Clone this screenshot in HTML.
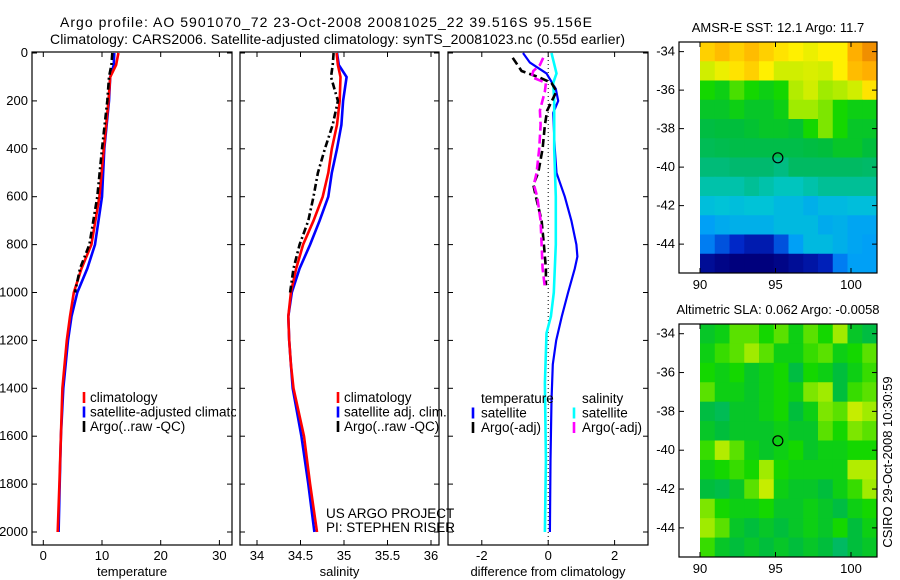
<!DOCTYPE html>
<html><head><meta charset="utf-8">
<style>
html,body{margin:0;padding:0;background:#fff;}
svg{display:block;font-family:"Liberation Sans",sans-serif;}
text{fill:#000;}
</style></head>
<body>
<svg id="chart" width="900" height="580" viewBox="0 0 900 580" xmlns="http://www.w3.org/2000/svg">
<text x="60" y="27" font-size="14" textLength="532" lengthAdjust="spacing">Argo profile: AO 5901070_72 23-Oct-2008 20081025_22 39.516S 95.156E</text>
<text x="50" y="44" font-size="14" textLength="575" lengthAdjust="spacing">Climatology: CARS2006. Satellite-adjusted climatology: synTS_20081023.nc (0.55d earlier)</text>
<g id="g"></g>
</svg>
<script>
// ---------- profile data ----------
const tDepth = [0,50,100,200,400,600,800,900,1000,1100,1200,1400,1600,1800,2000];
const tempClim = [12.8,12.4,11.4,11.1,10.3,9.55,8.2,6.5,5.2,4.55,4.0,3.25,3.0,2.75,2.45];
const tempSat  = [12.1,12.0,11.4,11.2,10.4,10.0,8.8,7.5,5.8,4.8,4.2,3.4,3.0,2.8,2.6];
const aDepth = [0,50,100,200,400,600,800,900,1000];
const tempArgo = [11.75,11.6,11.2,10.9,10.0,9.2,7.85,6.25,5.4];

const sDepth = [0,50,100,200,300,400,500,600,700,800,900,1000,1100,1200,1300,1400,1600,1800,2000];
const salClim = [34.915,34.93,34.96,34.95,34.92,34.86,34.82,34.755,34.65,34.53,34.45,34.39,34.36,34.37,34.39,34.42,34.54,34.61,34.69];
const salSat  = [34.92,34.94,35.03,34.99,34.97,34.92,34.86,34.82,34.72,34.61,34.49,34.40,34.36,34.37,34.39,34.41,34.51,34.59,34.66];
const salArgo = [34.88,34.87,34.85,34.93,34.87,34.78,34.70,34.65,34.59,34.49,34.42,34.38];
const salArgoDepth = [0,50,100,200,300,400,500,600,700,800,900,1000];

const dDepth = [0,40,85,150,200,250,400,500,600,700,800,850,900,1000,1100,1200,1300,1450,1700,2000];
const diffTempSat = [-0.76,-0.55,-0.05,0.23,0.3,0.15,0.2,0.25,0.5,0.7,0.85,0.88,0.8,0.6,0.41,0.24,0.14,0.1,0.07,0.05];
const dsDepth = [0,85,125,200,400,600,800,1000,1100,1170,1380,1700,2000];
const diffSalSat = [0.1,0.25,0.15,0.18,0.18,0.23,0.23,0.17,0.08,-0.05,-0.1,-0.07,-0.1];
const daDepth = [20,75,100,125,160,240,300,400,500,550,600,700,800,900,970];
const diffTempArgo = [-1.07,-0.8,-0.3,0.1,0.25,-0.03,-0.1,-0.17,-0.3,-0.45,-0.37,-0.2,-0.13,-0.07,-0.07];
const daDepth2 = [20,50,75,100,125,160,240,300,400,500,550,600,700,800,900,980];
const diffSalArgo = [-0.15,-0.25,-0.45,-0.5,-0.07,-0.1,-0.25,-0.23,-0.27,-0.35,-0.43,-0.33,-0.23,-0.2,-0.17,-0.1];

const depthTicks = [0,200,400,600,800,1000,1200,1400,1600,1800,2000];
const tempTicks = [0,10,20,30];
const salTicks = ["34","34.5","35","35.5","36"];
const diffTicks = [-2,0,2];

// ---------- map data (normalised colour index per 1-degree cell) ----------
const sstRows = [
[0.85,0.88,0.85,0.88,0.85,0.82,0.8,0.78,0.8,0.8,0.9,0.95],
[0.75,0.78,0.82,0.85,0.8,0.75,0.75,0.76,0.75,0.8,0.88,0.9],
[0.62,0.6,0.65,0.62,0.6,0.62,0.72,0.75,0.7,0.72,0.75,0.82],
[0.58,0.58,0.6,0.58,0.58,0.6,0.7,0.7,0.68,0.62,0.6,0.6],
[0.55,0.56,0.56,0.57,0.58,0.58,0.57,0.62,0.68,0.62,0.58,0.58],
[0.52,0.53,0.54,0.54,0.54,0.54,0.54,0.55,0.56,0.58,0.58,0.56],
[0.47,0.47,0.48,0.48,0.48,0.46,0.5,0.5,0.5,0.5,0.5,0.49],
[0.42,0.42,0.42,0.44,0.42,0.4,0.4,0.42,0.44,0.44,0.44,0.44],
[0.36,0.37,0.36,0.37,0.37,0.35,0.35,0.33,0.35,0.35,0.36,0.36],
[0.3,0.32,0.33,0.33,0.33,0.35,0.35,0.35,0.32,0.33,0.31,0.31],
[0.25,0.2,0.15,0.1,0.1,0.2,0.3,0.35,0.35,0.33,0.31,0.3],
[0.05,0.02,0.0,0.0,0.0,0.02,0.05,0.08,0.12,0.25,0.3,0.3]];
const slaRows = [
[0.58,0.6,0.66,0.66,0.62,0.66,0.6,0.66,0.62,0.7,0.58,0.55],
[0.6,0.64,0.66,0.7,0.66,0.6,0.6,0.64,0.66,0.6,0.62,0.66],
[0.62,0.6,0.62,0.58,0.6,0.62,0.55,0.62,0.6,0.56,0.6,0.64],
[0.66,0.6,0.6,0.58,0.6,0.62,0.6,0.68,0.7,0.56,0.64,0.66],
[0.55,0.52,0.58,0.58,0.6,0.62,0.56,0.6,0.68,0.66,0.74,0.7],
[0.58,0.56,0.58,0.58,0.58,0.6,0.58,0.58,0.66,0.62,0.68,0.66],
[0.64,0.72,0.66,0.6,0.58,0.6,0.62,0.58,0.6,0.6,0.62,0.62],
[0.6,0.62,0.64,0.62,0.7,0.62,0.6,0.6,0.6,0.6,0.72,0.72],
[0.56,0.54,0.58,0.66,0.74,0.6,0.58,0.58,0.56,0.6,0.64,0.7],
[0.68,0.62,0.6,0.6,0.62,0.58,0.58,0.6,0.58,0.55,0.6,0.62],
[0.7,0.66,0.58,0.56,0.58,0.56,0.58,0.6,0.58,0.62,0.56,0.6],
[0.64,0.58,0.56,0.58,0.56,0.58,0.56,0.58,0.56,0.5,0.56,0.58]];
const latTicks = [-34,-36,-38,-40,-42,-44];
const lonTicks = [90,95,100];
const argoLon = 95.156, argoLat = -39.516;

// ---------- drawing ----------
const NS="http://www.w3.org/2000/svg";
const G=document.getElementById('g');
function mk(tag,attrs,parent){const e=document.createElementNS(NS,tag);for(const k in attrs)e.setAttribute(k,attrs[k]);(parent||G).appendChild(e);return e;}
const Y0=53, YS=0.2395, TOP=52, BOT=545;
const yD=d=>Y0+d*YS;
const xT=v=>43.3+v*5.87;
const xS=v=>257+(v-34)*87;
const xDf=v=>548.2+v*33.2;

function panel(x0,x1,name,xticks,xfn,xlabel,showY){
  const r=mk('rect',{x:x0,y:TOP,width:x1-x0,height:BOT-TOP,fill:'none',stroke:'#000','stroke-width':1.2});
  
  
  depthTicks.forEach(d=>{
    const y=yD(d);
    mk('line',{x1:x0,x2:x0+5,y1:y,y2:y,stroke:'#000'});
    mk('line',{x1:x1-5,x2:x1,y1:y,y2:y,stroke:'#000'});
    if(showY){const t=mk('text',{x:x0-4,y:y+4,'font-size':13,'text-anchor':'end'});t.textContent=d;
      
      }
  });
  xticks.forEach(v=>{
    const x=xfn(+v);
    mk('line',{x1:x,x2:x,y1:TOP,y2:TOP+5,stroke:'#000'});
    mk('line',{x1:x,x2:x,y1:BOT-5,y2:BOT,stroke:'#000'});
    const t=mk('text',{x:x,y:560,'font-size':13,'text-anchor':'middle'});t.textContent=v;
    
    
  });
  const t=mk('text',{x:(x0+x1)/2,y:576,'font-size':13,'text-anchor':'middle'});t.textContent=xlabel;
  
  
}
function line(depths,vals,xfn,color,name,dash,w){
  const pts=depths.map((d,i)=>xfn(vals[i]).toFixed(1)+','+yD(d).toFixed(1)).join(' ');
  const a={points:pts,fill:'none',stroke:color,'stroke-width':w||2.6};
  if(dash)a['stroke-dasharray']=dash;
  const p=mk('polyline',a);
  
  
}
function legend(items,x,y0,name,clip){
  items.forEach((it,i)=>{
    const y=y0+i*14.5;
    if(it[1]){mk('line',{x1:x,x2:x,y1:y-10,y2:y+1,stroke:it[1],'stroke-width':2.6});}
    const a={x:x+6,y:y,'font-size':13.5};
    if(clip)a['clip-path']=clip;
    const t=mk('text',a);t.textContent=it[0];
    
    
  });
}
const defs=mk('defs',{});
const cp=mk('clipPath',{id:'clipP1'},defs);mk('rect',{x:0,y:0,width:236,height:580},cp);

panel(32,232,'temperature-panel',tempTicks,xT,'temperature',true);
panel(240,439,'salinity-panel',salTicks,xS,'salinity',false);
panel(448,648,'difference-panel',diffTicks,xDf,'difference from climatology',false);

line(tDepth,tempSat,xT,'#0000ff','temperature-satellite-line');
line(tDepth,tempClim,xT,'#ff0000','temperature-climatology-line');
line(aDepth,tempArgo,xT,'#000','temperature-argo-line','7,3,2,3');
line(sDepth,salSat,xS,'#0000ff','salinity-satellite-line');
line(sDepth,salClim,xS,'#ff0000','salinity-climatology-line');
line(salArgoDepth,salArgo,xS,'#000','salinity-argo-line','7,3,2,3');

const zl=mk('line',{x1:xDf(0),x2:xDf(0),y1:TOP,y2:BOT,stroke:'#000','stroke-width':1,'stroke-dasharray':'1,3'});


line(dDepth,diffTempSat,xDf,'#0000ff','diff-temperature-satellite-line',null,2.2);
line(dsDepth,diffSalSat,xDf,'#00ffff','diff-salinity-satellite-line',null,2.6);
line(daDepth,diffTempArgo,xDf,'#000','diff-temperature-argo-line','8,4',2.6);
line(daDepth2,diffSalArgo,xDf,'#ff00ff','diff-salinity-argo-line','9,4',2.6);

legend([['climatology','#ff0000'],['satellite-adjusted climatology','#0000ff'],['Argo(..raw -QC)','#000']],84,402,'temperature-legend','url(#clipP1)');
legend([['climatology','#ff0000'],['satellite adj. clim.','#0000ff'],['Argo(..raw -QC)','#000']],338,402,'salinity-legend',null);
function legend3(items,x,y0,name){
  items.forEach((it,i)=>{
    const y=y0+i*14.5;
    if(it[1]){mk('line',{x1:x,x2:x,y1:y-10,y2:y+1,stroke:it[1],'stroke-width':2.6});}
    const t=mk('text',{x:x+8,y:y,'font-size':13.5});t.textContent=it[0];
    
    
  });
}
legend3([['temperature',null],['satellite','#0000ff'],['Argo(-adj)','#000']],473,403,'diff-temperature-legend');
legend3([['salinity',null],['satellite','#00ffff'],['Argo(-adj)','#ff00ff']],574,403,'diff-salinity-legend');

let t=mk('text',{x:326,y:518,'font-size':13.5});t.textContent='US ARGO PROJECT';


t=mk('text',{x:326,y:532,'font-size':13.5});t.textContent='PI: STEPHEN RISER';



// ---------- maps ----------
const stops=[[0,[0,0,125]],[0.15,[0,40,200]],[0.28,[0,150,255]],[0.38,[0,200,210]],[0.48,[0,185,110]],[0.56,[0,190,60]],[0.62,[20,215,0]],[0.7,[160,235,0]],[0.8,[255,240,0]],[0.9,[255,175,0]],[1,[225,110,0]]];
function cmap(v){
  v=Math.max(0,Math.min(1,v));
  for(let i=1;i<stops.length;i++){if(v<=stops[i][0]){const a=stops[i-1],b=stops[i];const f=(v-a[0])/(b[0]-a[0]);
    return 'rgb('+a[1].map((c,j)=>Math.round(c+(b[1][j]-c)*f)).join(',')+')';}}
  return 'rgb(225,110,0)';
}
function map(rows,top,bot,title,name){
  const L=679,R=877;
  const lonX=lo=>700+(lo-90)*15.1;
  const LAT0=-33.5,LAT1=-45.5;
  const latY=la=>top+(la-LAT0)/(LAT1-LAT0)*(bot-top);
  const nC=rows[0].length;
  const cw=(R-700)/nC;
  rows.forEach((row,ri)=>{
    row.forEach((v,ci)=>{
      const c=mk('rect',{x:(700+ci*cw).toFixed(2),y:latY(LAT0-ri).toFixed(2),width:(cw+0.5).toFixed(2),height:(latY(LAT0-ri-1)-latY(LAT0-ri)+0.5).toFixed(2),fill:cmap(v)});
      
      
    });
  });
  const fr=mk('rect',{x:L,y:top,width:R-L,height:bot-top,fill:'none',stroke:'#000','stroke-width':1.2});
  
  
  latTicks.forEach(la=>{const y=latY(la);
    mk('line',{x1:L,x2:L+5,y1:y,y2:y,stroke:'#000'});mk('line',{x1:R-5,x2:R,y1:y,y2:y,stroke:'#000'});
    const tt=mk('text',{x:L-4,y:y+4,'font-size':13,'text-anchor':'end'});tt.textContent=la;
    
    });
  lonTicks.forEach(lo=>{const x=lonX(lo);
    mk('line',{x1:x,x2:x,y1:top,y2:top+5,stroke:'#000'});mk('line',{x1:x,x2:x,y1:bot-5,y2:bot,stroke:'#000'});
    const tt=mk('text',{x:x,y:bot+16,'font-size':13,'text-anchor':'middle'});tt.textContent=lo;
    
    });
  const ci=mk('circle',{cx:lonX(argoLon),cy:latY(argoLat),r:5,fill:'none',stroke:'#000','stroke-width':1.2});
  
  
  const tt=mk('text',{x:(L+R)/2,y:top-10,'font-size':13,'text-anchor':'middle'});tt.textContent=title;
  
  
}
map(sstRows,42,273,'AMSR-E SST: 12.1 Argo: 11.7','sst-map');
map(slaRows,324,557,'Altimetric SLA: 0.062 Argo: -0.0058','sla-map');
t=mk('text',{x:0,y:0,'font-size':13,'text-anchor':'middle',transform:'translate(892,462) rotate(-90)'});t.textContent='CSIRO 29-Oct-2008 10:30:59';


</script>
</body></html>
